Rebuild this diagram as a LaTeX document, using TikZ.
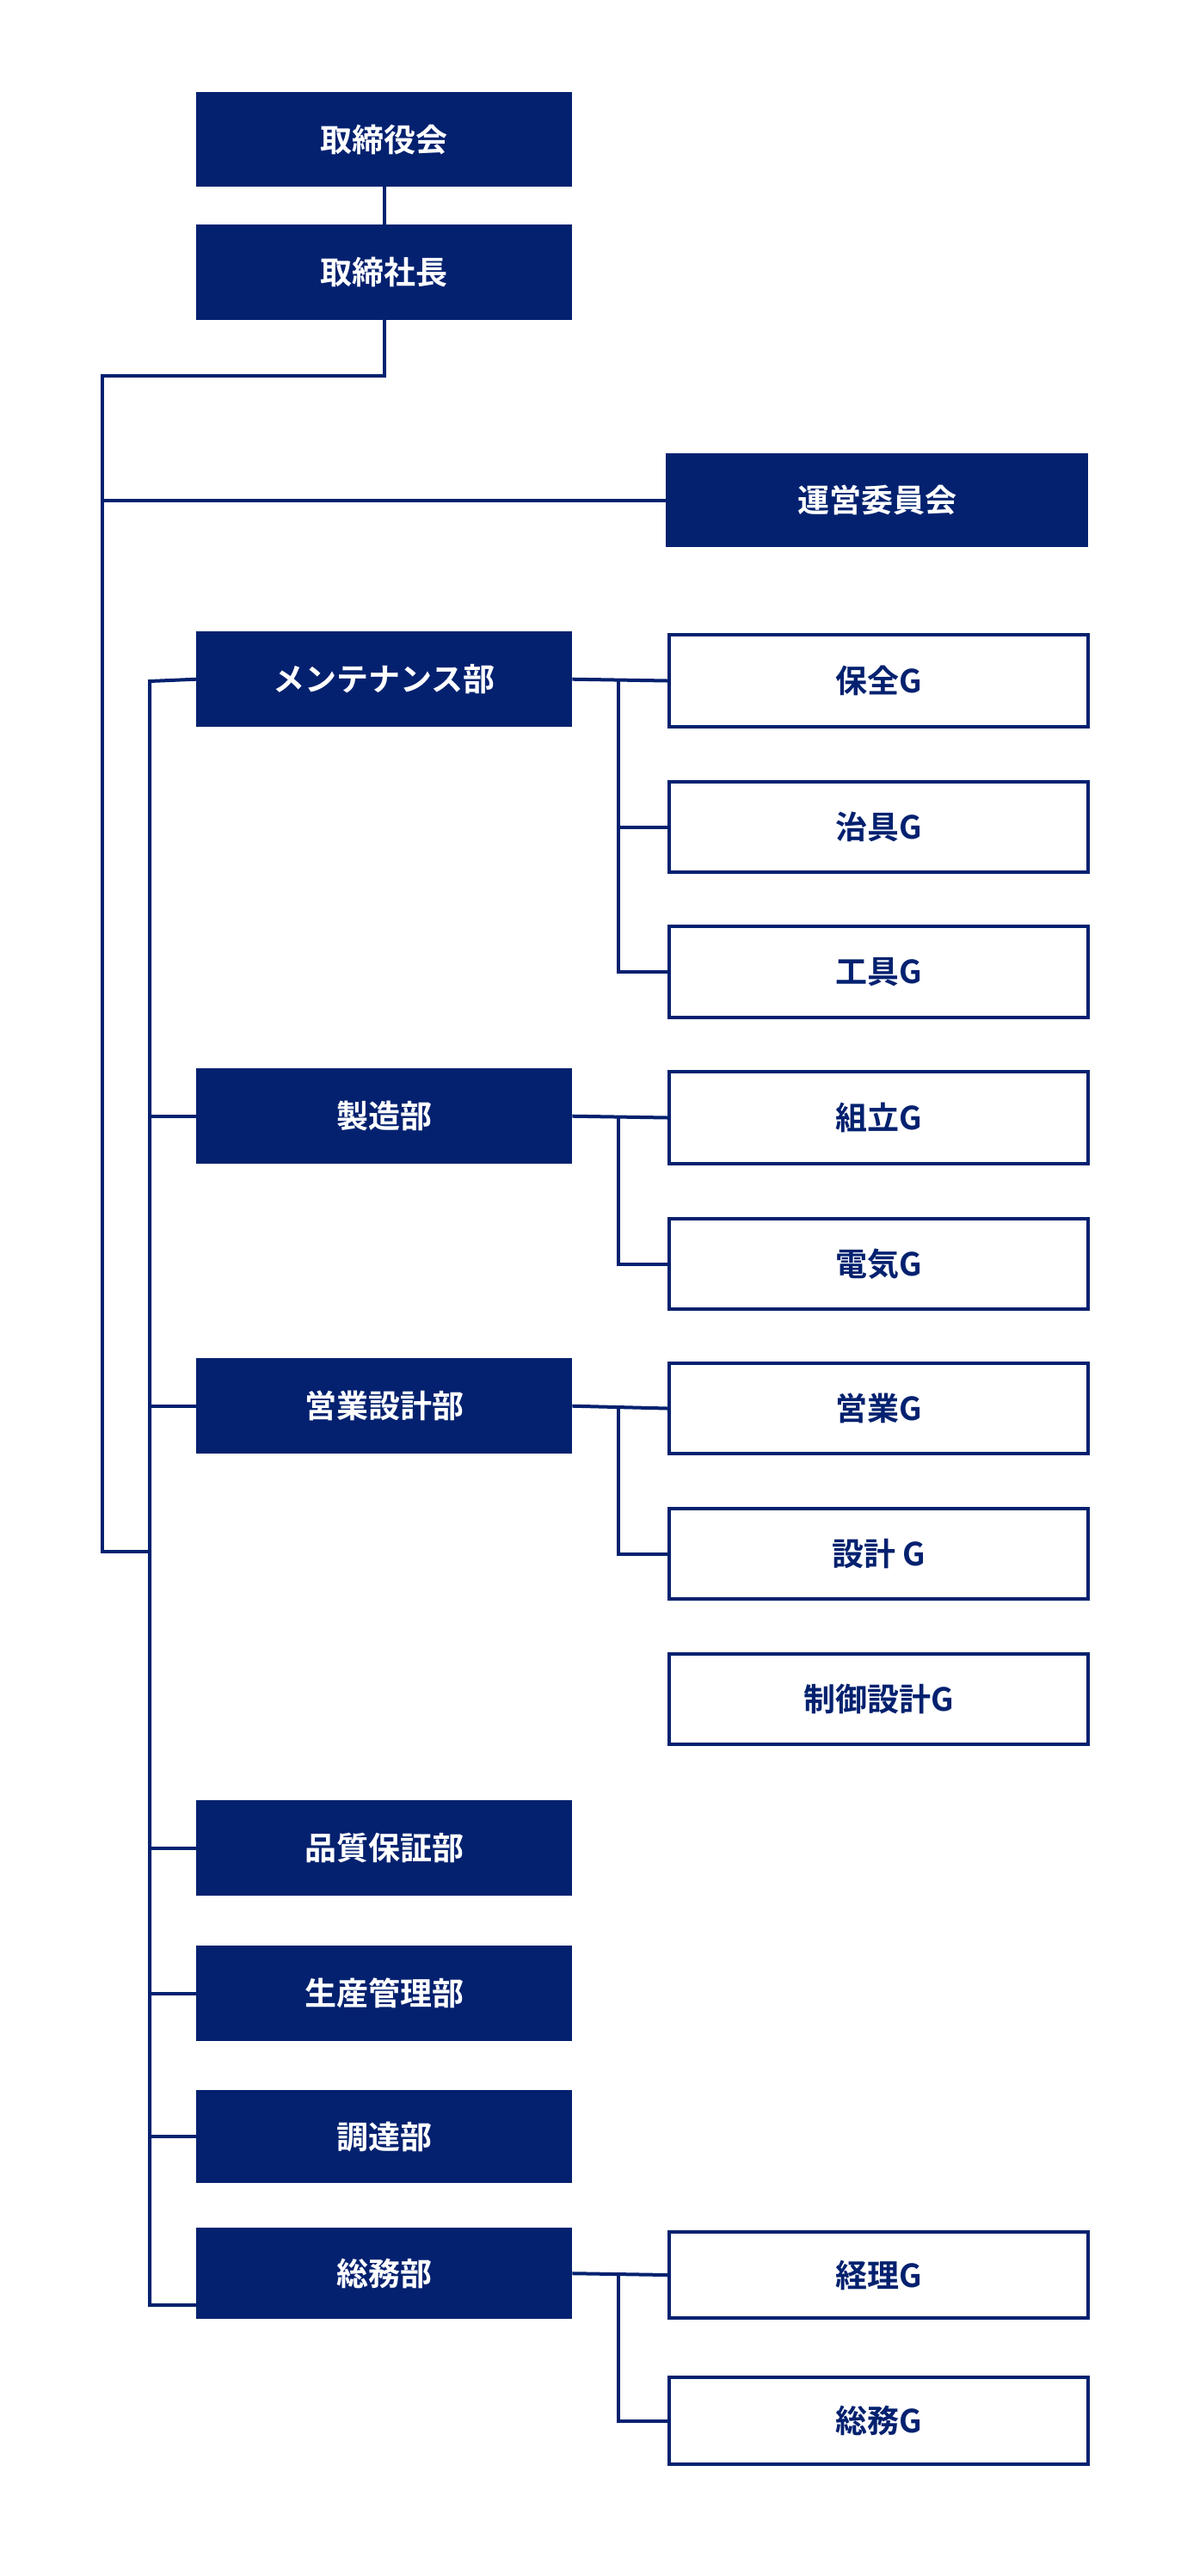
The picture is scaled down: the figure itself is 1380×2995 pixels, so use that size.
\documentclass[tikz,border=0pt]{standalone}
\usepackage{fontspec}
\setmainfont{Noto Sans CJK JP Bold}
\begin{document}
\begin{tikzpicture}[x=1pt,y=-1pt]
\definecolor{navy}{HTML}{03216F}
\tikzset{
 dept/.style={fill=navy,draw=none,text=white,font=\fontsize{37}{40}\selectfont,inner sep=0pt},
 grp/.style={fill=white,draw=navy,line width=4pt,text=navy,font=\fontsize{37}{40}\selectfont,inner sep=0pt},
 ln/.style={draw=navy,line width=4pt}
}
\useasboundingbox (0,0) rectangle (1380,2995);
\newcommand\bx[6]{\path[#1] (#3,#4) rectangle (#5,#6); \node[text=#2] (#1x) at ({(#3+#5)/2},{(#4+#6)/2}) {};}
% boxes as nodes
\def\mk#1#2#3#4#5#6{\node[#2,minimum width={#5-#3},minimum height={#6-#4},anchor=north west] (#1) at (#3,#4) {\raisebox{-2pt}{#6}};}
\newcommand\nb[7]{\node[#2,minimum width=#5-#3,minimum height=#6-#4,anchor=north west] (#1) at (#3,#4) {#7};}
\nb{bd}{dept}{228}{107}{665}{217}{取締役会}
\nb{pr}{dept}{228}{261}{665}{372}{取締社長}
\nb{un}{dept}{774}{527}{1265}{636}{運営委員会}
\nb{d1}{dept}{228}{734}{665}{845}{メンテナンス部}
\nb{d2}{dept}{228}{1242}{665}{1353}{製造部}
\nb{d3}{dept}{228}{1579}{665}{1690}{営業設計部}
\nb{d4}{dept}{228}{2093}{665}{2204}{品質保証部}
\nb{d5}{dept}{228}{2262}{665}{2373}{生産管理部}
\nb{d6}{dept}{228}{2430}{665}{2538}{調達部}
\nb{d7}{dept}{228}{2590}{665}{2696}{総務部}
\nb{g1}{grp}{776}{736}{1263}{843}{保全G}
\nb{g2}{grp}{776}{907}{1263}{1012}{治具G}
\nb{g3}{grp}{776}{1075}{1263}{1181}{工具G}
\nb{g4}{grp}{776}{1244}{1263}{1351}{組立G}
\nb{g5}{grp}{776}{1415}{1263}{1520}{電気G}
\nb{g6}{grp}{776}{1583}{1263}{1688}{営業G}
\nb{g7}{grp}{776}{1752}{1263}{1857}{設計 G}
\nb{g8}{grp}{776}{1921}{1263}{2026}{制御設計G}
\nb{g9}{grp}{776}{2593}{1263}{2693}{経理G}
\nb{g10}{grp}{776}{2762}{1263}{2863}{総務G}
\coordinate (t1) at (119,1804);
\coordinate (t2) at (174,792);
\coordinate (t3) at (174,2680);
\draw[ln] (bd.south) -- (pr.north);
\draw[ln] (pr.south) -- ++(0,65) -| (t1) -- (t1 -| t2);
\draw[ln] (un.west) -- (un.west -| t1);
\draw[ln] (d1.west) -- (t2) -- (t3) -- (t3 -| d7.west);
\foreach \d in {d2,d3,d4,d5,d6} \draw[ln] (\d.west) -- (\d.west -| t2);
\foreach \d/\a/\b in {d1/g1/g3, d2/g4/g5, d3/g6/g7, d7/g9/g10}{
  \draw[ln] (\d.east) -- (\a.west);
  \draw[ln] (\d.east -| 719,0) |- (\b.west);
}
\draw[ln] (d1.east -| 719,0) |- (g2.west);
\end{tikzpicture}
\end{document}
